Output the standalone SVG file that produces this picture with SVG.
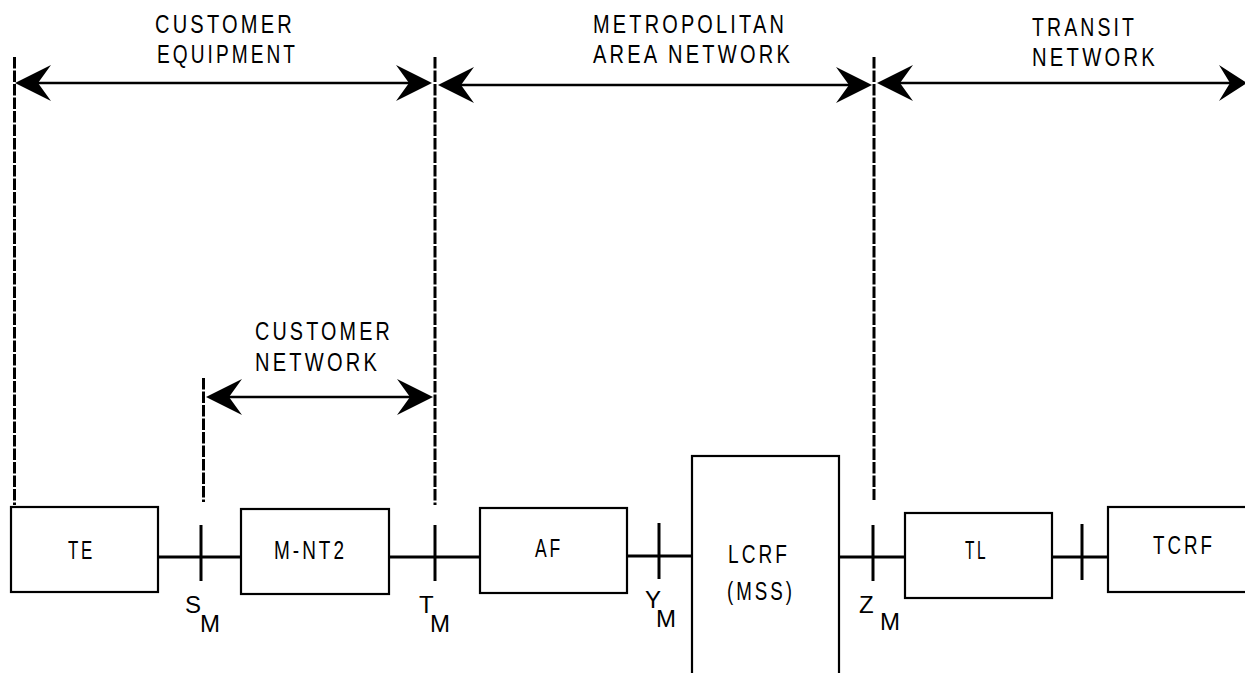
<svg xmlns="http://www.w3.org/2000/svg" width="1245" height="673" viewBox="0 0 1245 673">
<style>
.t{font-family:"Liberation Sans",Arial,sans-serif;font-size:25px;fill:#000;letter-spacing:4px}
.s{font-family:"Liberation Sans",Arial,sans-serif;font-size:24px;fill:#000}
.box{fill:#fff;stroke:#000;stroke-width:2.2}
.dash{stroke:#000;stroke-width:3;stroke-dasharray:11.5 2;fill:none}
.arr{stroke:#000;stroke-width:2.6;fill:none}
.ah{fill:#000;stroke:none}
.wire{stroke:#000;stroke-width:3;fill:none}
.tick{stroke:#000;stroke-width:3}
</style>
<rect width="1245" height="673" fill="#fff"/>
<g id="boundaries">
<line class="dash" x1="14.5" y1="57" x2="14.5" y2="505"/>
<line class="dash" x1="435" y1="57" x2="435" y2="505"/>
<line class="dash" x1="874" y1="57" x2="874" y2="500"/>
<line class="dash" x1="203.5" y1="378" x2="203.5" y2="502"/>
</g>
<g id="span-customer-equipment">
<line class="arr" x1="30" y1="83" x2="418" y2="83"/>
<polygon class="ah" points="15,83 51,65 38,83 51,101"/>
<polygon class="ah" points="432,83 396,65 409,83 396,101"/>
<text class="t" x="155" y="33" textLength="140" lengthAdjust="spacingAndGlyphs">CUSTOMER</text>
<text class="t" x="157" y="63" textLength="141" lengthAdjust="spacingAndGlyphs">EQUIPMENT</text>
</g>
<g id="span-metropolitan">
<line class="arr" x1="455" y1="85" x2="856" y2="85"/>
<polygon class="ah" points="438,85 474,67 461,85 474,103"/>
<polygon class="ah" points="872,85 836,67 849,85 836,103"/>
<text class="t" x="593" y="33" textLength="194" lengthAdjust="spacingAndGlyphs">METROPOLITAN</text>
<text class="t" x="593" y="63" textLength="200" lengthAdjust="spacingAndGlyphs">AREA NETWORK</text>
</g>
<g id="span-transit">
<line class="arr" x1="893" y1="83" x2="1235" y2="83"/>
<polygon class="ah" points="877,83 913,65 900,83 913,101"/>
<polygon class="ah" points="1247,83 1219,65 1230,83 1219,101"/>
<text class="t" x="1032" y="36" textLength="105" lengthAdjust="spacingAndGlyphs">TRANSIT</text>
<text class="t" x="1032" y="66" textLength="126" lengthAdjust="spacingAndGlyphs">NETWORK</text>
</g>
<g id="span-customer-network">
<line class="arr" x1="222" y1="397" x2="418" y2="397"/>
<polygon class="ah" points="206,397 242,379 229,397 242,415"/>
<polygon class="ah" points="433,397 397,379 410,397 397,415"/>
<text class="t" x="255" y="340" textLength="138" lengthAdjust="spacingAndGlyphs">CUSTOMER</text>
<text class="t" x="255" y="371" textLength="125" lengthAdjust="spacingAndGlyphs">NETWORK</text>
</g>
<g id="connectors">
<line class="wire" x1="158" y1="557" x2="241" y2="557"/>
<line class="wire" x1="389" y1="557" x2="480" y2="557"/>
<line class="wire" x1="627" y1="556" x2="692" y2="556"/>
<line class="wire" x1="839" y1="557" x2="905" y2="557"/>
<line class="wire" x1="1052" y1="557" x2="1108" y2="557"/>
</g>
<g id="ref-S">
<line class="tick" x1="201" y1="525" x2="201" y2="581"/>
<text class="s" x="185" y="613">S<tspan x="200" y="632">M</tspan></text>
</g>
<g id="ref-T">
<line class="tick" x1="435" y1="525" x2="435" y2="581"/>
<text class="s" x="419" y="613">T<tspan x="430" y="632">M</tspan></text>
</g>
<g id="ref-Y">
<line class="tick" x1="659" y1="523" x2="659" y2="579"/>
<text class="s" x="645" y="608">Y<tspan x="656" y="627">M</tspan></text>
</g>
<g id="ref-Z">
<line class="tick" x1="873" y1="525" x2="873" y2="581"/>
<text class="s" x="859" y="613">Z<tspan x="880" y="630">M</tspan></text>
</g>
<g id="ref-TL-TCRF">
<line class="tick" x1="1082" y1="524" x2="1082" y2="580"/>
</g>
<g id="node-TE">
<rect class="box" x="11" y="507" width="147" height="85"/>
<text class="t" x="68" y="559" textLength="27" lengthAdjust="spacingAndGlyphs">TE</text>
</g>
<g id="node-MNT2">
<rect class="box" x="241" y="509" width="148" height="85"/>
<text class="t" x="274" y="559" textLength="73" lengthAdjust="spacingAndGlyphs">M-NT2</text>
</g>
<g id="node-AF">
<rect class="box" x="480" y="508" width="147" height="85"/>
<text class="t" x="535" y="557" textLength="28" lengthAdjust="spacingAndGlyphs">AF</text>
</g>
<g id="node-LCRF">
<rect class="box" x="692" y="456" width="147" height="230"/>
<text class="t" x="728" y="563" textLength="62" lengthAdjust="spacingAndGlyphs">LCRF</text>
<text class="t" x="727" y="600" textLength="68" lengthAdjust="spacingAndGlyphs">(MSS)</text>
</g>
<g id="node-TL">
<rect class="box" x="905" y="513" width="147" height="85"/>
<text class="t" x="965" y="559" textLength="23" lengthAdjust="spacingAndGlyphs">TL</text>
</g>
<g id="node-TCRF">
<rect class="box" x="1108" y="507" width="160" height="85"/>
<text class="t" x="1153" y="554" textLength="62" lengthAdjust="spacingAndGlyphs">TCRF</text>
</g>
</svg>
